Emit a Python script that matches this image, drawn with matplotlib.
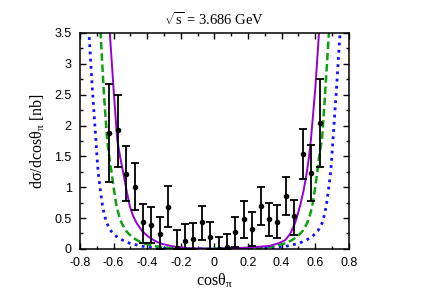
"""Pion angular distribution at sqrt(s) = 3.686 GeV, data with three model curves."""

import matplotlib

matplotlib.use("Agg")
import matplotlib.pyplot as plt
import numpy as np
from matplotlib.ticker import MultipleLocator

cos_theta = [
    -0.625, -0.575, -0.525, -0.475, -0.425, -0.375, -0.325, -0.275, -0.225,
    -0.175, -0.125, -0.075, -0.025, 0.025, 0.075, 0.125, 0.175, 0.225,
    0.275, 0.325, 0.375, 0.425, 0.475, 0.525, 0.575, 0.625,
]
dsigma = [
    1.885, 1.92, 1.215, 1.01, 0.43, 0.38, 0.24, 0.685, 0.02,
    0.13, 0.16, 0.43, 0.20, 0.00, 0.03, 0.28, 0.48, 0.33,
    0.70, 0.48, 0.44, 0.86, 0.54, 1.53, 1.23, 2.04,
]
dsigma_low = [
    1.09, 1.32, 0.78, 0.63, 0.10, 0.09, 0.00, 0.36, 0.00,
    0.00, 0.00, 0.15, 0.00, 0.00, 0.00, 0.03, 0.18, 0.05,
    0.39, 0.21, 0.18, 0.55, 0.23, 1.13, 0.77, 1.32,
]
dsigma_high = [
    2.67, 2.50, 1.66, 1.39, 0.73, 0.68, 0.52, 1.02, 0.30,
    0.40, 0.42, 0.70, 0.43, 0.19, 0.24, 0.52, 0.77, 0.60,
    1.00, 0.74, 0.71, 1.16, 0.79, 1.94, 1.68, 2.75,
]

# model curves
solid_x = [-0.630, -0.622, -0.600, -0.578, -0.560, -0.542, -0.522, -0.503, -0.483,
           -0.463, -0.430, -0.394, -0.360, -0.324, -0.247, -0.150, 0.0,
           0.150, 0.250, 0.330, 0.380, 0.420, 0.450, 0.480, 0.509, 0.530,
           0.549, 0.562, 0.574, 0.600, 0.622, 0.630]
solid_y = [3.9, 3.5, 2.6, 1.77, 1.48, 1.23, 0.94, 0.69, 0.53,
           0.42, 0.29, 0.20, 0.14, 0.09, 0.04, 0.01, 0.0,
           0.015, 0.03, 0.05, 0.09, 0.14, 0.24, 0.42, 0.69, 0.94,
           1.23, 1.48, 1.77, 2.6, 3.5, 3.9]

dashed_x = [-0.685, -0.677, -0.658, -0.638, -0.625, -0.611, -0.597, -0.582, -0.567,
            -0.552, -0.525, -0.493, -0.460, -0.423, -0.344, -0.250, 0.0,
            0.250, 0.344, 0.423, 0.460, 0.493, 0.525, 0.552, 0.567, 0.582,
            0.597, 0.611, 0.628, 0.640, 0.659, 0.681, 0.689]
dashed_y = [3.9, 3.5, 2.55, 1.77, 1.48, 1.23, 0.95, 0.69, 0.54,
            0.42, 0.29, 0.20, 0.14, 0.09, 0.04, 0.01, 0.0,
            0.01, 0.04, 0.09, 0.14, 0.20, 0.29, 0.42, 0.54, 0.69,
            0.95, 1.23, 1.60, 1.77, 2.55, 3.5, 3.9]

dotted_x = [-0.755, -0.746, -0.725, -0.705, -0.698, -0.691, -0.678, -0.665, -0.653,
            -0.641, -0.615, -0.582, -0.545, -0.503, -0.423, -0.300, 0.0,
            0.300, 0.423, 0.503, 0.545, 0.582, 0.615, 0.641, 0.653, 0.665,
            0.678, 0.691, 0.698, 0.705, 0.725, 0.747, 0.756]
dotted_y = [3.9, 3.5, 2.55, 1.77, 1.48, 1.23, 0.95, 0.69, 0.54,
            0.42, 0.29, 0.20, 0.14, 0.09, 0.04, 0.01, 0.0,
            0.01, 0.04, 0.09, 0.14, 0.20, 0.29, 0.42, 0.54, 0.69,
            0.95, 1.23, 1.48, 1.77, 2.55, 3.5, 3.9]

title_text = r"$\sqrt{\mathrm{s}}$ = 3.686 GeV"
x_label = r"cosθ$_{\mathrm{π}}$"
y_label = r"dσ/dcosθ$_{\mathrm{π}}$ [nb]"


def main():
    plt.rcParams["mathtext.fontset"] = "custom"
    plt.rcParams["mathtext.rm"] = "Liberation Serif"
    plt.rcParams["mathtext.it"] = "Liberation Serif:italic"

    fig = plt.figure(figsize=(4.25, 2.97), dpi=100)
    ax = fig.add_axes([0.188, 0.162, 0.633, 0.727])

    ax.plot(dotted_x, dotted_y, color="#1010ff", lw=2.0, linestyle=(0, (1, 1.6)))
    ax.plot(dashed_x, dashed_y, color="#10a010", lw=1.8, linestyle=(0, (3, 1.5)))
    ax.plot(solid_x, solid_y, color="#9400d3", lw=1.4)

    y = np.array(dsigma)
    yerr = [y - np.array(dsigma_low), np.array(dsigma_high) - y]
    ax.errorbar(cos_theta, dsigma, yerr=yerr, fmt="o", color="black", ms=3,
                elinewidth=1.3, capsize=2.6, capthick=1.3, clip_on=True)

    ax.set_xlim(-0.8, 0.8)
    ax.set_ylim(0, 3.5)
    ax.xaxis.set_minor_locator(MultipleLocator(0.1))
    ax.yaxis.set_minor_locator(MultipleLocator(0.25))
    ax.set_xticks(np.arange(-0.8, 0.81, 0.2))
    ax.set_xticklabels(["-0.8", "-0.6", "-0.4", "-0.2", "0", "0.2", "0.4", "0.6", "0.8"])
    ax.set_yticks(np.arange(0, 3.51, 0.5))
    ax.set_yticklabels(["0", "0.5", "1", "1.5", "2", "2.5", "3", "3.5"])
    ax.tick_params(which="both", direction="in", top=True, right=True, width=1.0)
    ax.tick_params(which="major", length=4)
    ax.tick_params(which="minor", length=2.5)
    ax.tick_params(axis="x", which="major", pad=6)
    ax.tick_params(axis="y", which="major", pad=6)
    for lab in ax.get_xticklabels() + ax.get_yticklabels():
        lab.set_fontfamily("Liberation Sans")
        lab.set_fontsize(9)
    for spine in ax.spines.values():
        spine.set_linewidth(1.1)

    ax.set_title(title_text, fontfamily="Liberation Serif", fontsize=10.5, pad=6)
    ax.set_xlabel(x_label, fontfamily="Liberation Serif", fontsize=11.5, labelpad=2)
    ax.set_ylabel(y_label, fontfamily="Liberation Serif", fontsize=11.5, labelpad=5)

    fig.savefig("out.png", dpi=100)


if __name__ == "__main__":
    main()
